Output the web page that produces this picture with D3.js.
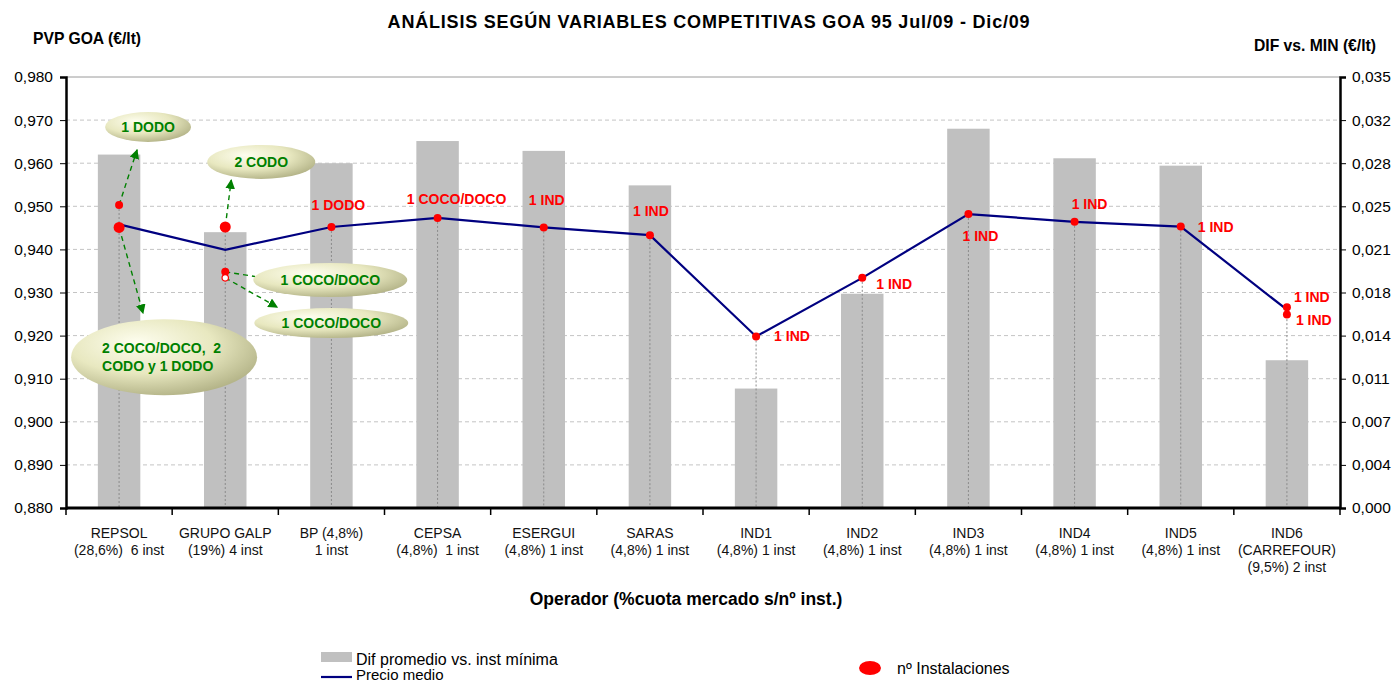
<!DOCTYPE html>
<html>
<head>
<meta charset="utf-8">
<script src="https://cdn.jsdelivr.net/npm/d3@7"></script>
<style>
  body { margin: 0; background: #fff; }
  text { font-family: Arial, "Liberation Sans", sans-serif; white-space: pre; }
</style>
</head>
<body>
<svg id="chart" width="1395" height="684"></svg>
<script>
// ---- data ----
const operators = ["REPSOL", "GRUPO GALP", "BP (4,8%)", "CEPSA", "ESERGUI", "SARAS",
                   "IND1", "IND2", "IND3", "IND4", "IND5", "IND6"];
const operatorDetail = [["(28,6%)  6 inst"], ["(19%) 4 inst"], ["1 inst"], ["(4,8%)  1 inst"],
                        ["(4,8%) 1 inst"], ["(4,8%) 1 inst"], ["(4,8%) 1 inst"], ["(4,8%) 1 inst"],
                        ["(4,8%) 1 inst"], ["(4,8%) 1 inst"], ["(4,8%) 1 inst"], ["(CARREFOUR)", "(9,5%) 2 inst"]];
const difMinima = [0.0287, 0.0224, 0.0280, 0.0298, 0.0290, 0.0262,
                   0.0097, 0.0174, 0.0308, 0.0284, 0.0278, 0.0120];
const precioMedio = [0.9458, 0.9399, 0.9452, 0.9473, 0.9451, 0.9433,
                     0.9198, 0.9334, 0.9482, 0.9464, 0.9453, 0.9260];
// price of each installation (red dots), per operator
const instalaciones = [[0.9503, 0.9451], [0.9452, 0.9348, 0.9334], [0.9452], [0.9473], [0.9451], [0.9433],
                       [0.9198], [0.9334], [0.9482], [0.9464], [0.9453], [0.9266, 0.9249]];
const instMarker = [["s", "L"], ["L", "s", "o"], ["s"], ["s"], ["s"], ["s"],
                    ["s"], ["s"], ["s"], ["s"], ["s"], ["s", "s"]];
const instLabels = [[], [], ["1 DODO"], ["1 COCO/DOCO"], ["1 IND"], ["1 IND"],
                    ["1 IND"], ["1 IND"], ["1 IND"], ["1 IND"], ["1 IND"], ["1 IND", "1 IND"]];
const leftTicks = [0.88, 0.89, 0.90, 0.91, 0.92, 0.93, 0.94, 0.95, 0.96, 0.97, 0.98];
const rightTicks = [0, 0.0035, 0.007, 0.0105, 0.014, 0.0175, 0.021, 0.0245, 0.028, 0.0315, 0.035];
const rightTickLabels = ["0,000", "0,004", "0,007", "0,011", "0,014", "0,018",
                         "0,021", "0,025", "0,028", "0,032", "0,035"];

// ---- layout ----
const svg = d3.select("#chart");
const m = { left: 66, right: 1340, top: 77, bottom: 508 };

const x = d3.scaleBand().domain(operators).range([m.left, m.right]);
const cx = d => x(d) + x.bandwidth() / 2;
const y = d3.scaleLinear().domain([0.88, 0.98]).range([m.bottom, m.top]);
const y2 = d3.scaleLinear().domain([0, 0.035]).range([m.bottom, m.top]);
const fmt = v => d3.format(".3f")(v).replace(".", ",");

const defs = svg.append("defs");
const grad = defs.append("radialGradient").attr("id", "bubble")
    .attr("cx", "40%").attr("cy", "35%").attr("r", "70%").attr("fx", "35%").attr("fy", "30%");
grad.append("stop").attr("offset", "0%").attr("stop-color", "#fdfdee");
grad.append("stop").attr("offset", "55%").attr("stop-color", "#e8e8c0");
grad.append("stop").attr("offset", "100%").attr("stop-color", "#b0b084");
defs.append("marker").attr("id", "arrow")
    .attr("viewBox", "0 0 10 10").attr("refX", 9).attr("refY", 5)
    .attr("markerWidth", 7).attr("markerHeight", 7).attr("orient", "auto")
  .append("path").attr("d", "M0,0L10,5L0,10Z").attr("fill", "#008000");

// Grid
svg.append("g").selectAll("line")
  .data(leftTicks.slice(1))
  .join("line")
    .attr("x1", m.left).attr("x2", m.right)
    .attr("y1", d => y(d)).attr("y2", d => y(d))
    .attr("stroke", (d, i) => i === leftTicks.length - 2 ? "#9a9a9a" : "#c4c4c4")
    .attr("stroke-dasharray", (d, i) => i === leftTicks.length - 2 ? null : "4,3");

// Bars (right axis)
const bw = x.bandwidth() * 0.4;
svg.append("g").selectAll("rect")
  .data(operators)
  .join("rect")
    .attr("x", d => cx(d) - bw / 2)
    .attr("width", bw)
    .attr("y", (d, i) => y2(difMinima[i]))
    .attr("height", (d, i) => m.bottom - y2(difMinima[i]))
    .attr("fill", "#c0c0c0");

// Drop lines
svg.append("g").selectAll("line")
  .data(operators)
  .join("line")
    .attr("x1", cx).attr("x2", cx)
    .attr("y1", (d, i) => y(d3.max(instalaciones[i])))
    .attr("y2", m.bottom)
    .attr("stroke", "#8a8a8a").attr("stroke-width", 1).attr("stroke-dasharray", "2,2");

// Axes
const gl = svg.append("g").attr("transform", `translate(${m.left},0)`)
  .call(d3.axisLeft(y).tickValues(leftTicks).tickFormat(fmt).tickSize(6).tickPadding(7));
const gr = svg.append("g").attr("transform", `translate(${m.right},0)`)
  .call(d3.axisRight(y2).tickValues(rightTicks).tickFormat((d, i) => rightTickLabels[i]).tickSize(6).tickPadding(6));
[gl, gr].forEach(g => {
  g.select(".domain").attr("stroke", "#000").attr("stroke-width", 2.5);
  g.selectAll(".tick line").attr("stroke", "#000").attr("stroke-width", 1);
  g.selectAll(".tick text").attr("font-size", 15.5).attr("fill", "#000")
    .attr("font-family", "Arial, 'Liberation Sans', sans-serif");
});

// x axis
svg.append("line").attr("x1", m.left).attr("x2", m.right + 1)
  .attr("y1", m.bottom).attr("y2", m.bottom)
  .attr("stroke", "#000").attr("stroke-width", 3);
svg.append("g").selectAll("line")
  .data(d3.range(operators.length + 1))
  .join("line")
    .attr("x1", i => m.left + i * x.step()).attr("x2", i => m.left + i * x.step())
    .attr("y1", m.bottom).attr("y2", m.bottom + 7)
    .attr("stroke", "#000").attr("stroke-width", 1.5);
const xl = svg.append("g").selectAll("text")
  .data(operators)
  .join("text")
    .attr("x", cx).attr("y", 538)
    .attr("text-anchor", "middle").attr("font-size", 14).attr("fill", "#111");
xl.append("tspan").attr("x", cx).attr("dy", 0).text(d => d);
xl.each(function(d, i) {
  operatorDetail[i].forEach(t => {
    d3.select(this).append("tspan").attr("x", cx(d)).attr("dy", 17).text(t);
  });
});

// Line
svg.append("path")
  .datum(precioMedio)
  .attr("fill", "none").attr("stroke", "#000080").attr("stroke-width", 2.2)
  .attr("d", d3.line().x((d, i) => cx(operators[i])).y(d => y(d)));

// Green annotations (arrows + bubbles)
const arrows = [
  { cat: 0, from: 0.9503, to: 0.9631, dx: 18 },
  { cat: 0, from: 0.9451, to: 0.9252, dx: 24 },
  { cat: 1, from: 0.9452, to: 0.9561, dx: 6 },
  { cat: 1, from: 0.9348, to: 0.9331, dx: 46 },
  { cat: 1, from: 0.9334, to: 0.9266, dx: 52 }
];
svg.append("g").selectAll("line")
  .data(arrows)
  .join("line")
    .attr("x1", d => cx(operators[d.cat])).attr("y1", d => y(d.from))
    .attr("x2", d => cx(operators[d.cat]) + d.dx).attr("y2", d => y(d.to))
    .attr("stroke", "#008000").attr("stroke-width", 1.4).attr("stroke-dasharray", "5,4")
    .attr("marker-end", "url(#arrow)");

const bubbles = [
  { cat: 0, v: 0.9684, dx: 29, rx: 43, ry: 15, lines: ["1 DODO"] },
  { cat: 1, v: 0.9603, dx: 36, rx: 54, ry: 17, lines: ["2 CODO"] },
  { cat: 1, v: 0.9329, dx: 105, rx: 77, ry: 17, lines: ["1 COCO/DOCO"] },
  { cat: 1, v: 0.9229, dx: 106, rx: 77, ry: 15, lines: ["1 COCO/DOCO"] },
  { cat: 0, v: 0.9150, dx: 45, rx: 93, ry: 38, lines: ["2 COCO/DOCO,  2", "CODO y 1 DODO"] }
];
const bg = svg.append("g").selectAll("g")
  .data(bubbles)
  .join("g")
    .attr("transform", d => `translate(${cx(operators[d.cat]) + d.dx},${y(d.v)})`);
bg.append("ellipse").attr("rx", d => d.rx).attr("ry", d => d.ry).attr("fill", "url(#bubble)");
bg.each(function(d) {
  const multi = d.lines.length > 1;
  d.lines.forEach((t, k) => {
    d3.select(this).append("text")
      .attr("x", multi ? -62 : 0)
      .attr("y", multi ? -4 + k * 18 : 5)
      .attr("text-anchor", multi ? "start" : "middle")
      .attr("font-size", 14).attr("font-weight", "bold").attr("fill", "#008000")
      .text(t);
  });
});

// Red dots
const dots = [];
instalaciones.forEach((vals, i) => vals.forEach((v, k) => dots.push({ i, v, kind: instMarker[i][k] })));
svg.append("g").selectAll("circle")
  .data(dots)
  .join("circle")
    .attr("cx", d => cx(operators[d.i])).attr("cy", d => y(d.v))
    .attr("r", d => d.kind === "L" ? 5.5 : d.kind === "o" ? 3.2 : 4)
    .attr("fill", d => d.kind === "o" ? "#fff" : "#ff0000")
    .attr("stroke", "#ff0000").attr("stroke-width", d => d.kind === "o" ? 1.2 : 0);

// Red labels (offsets relative to their dot)
const labelPos = { 2: [[7, -17, "middle"]], 3: [[19, -14, "middle"]], 4: [[3, -22, "middle"]],
                   5: [[1, -19, "middle"]], 6: [[18, 5, "start"]], 7: [[14, 11, "start"]],
                   8: [[12, 27, "middle"]], 9: [[15, -13, "middle"]], 10: [[17, 5, "start"]],
                   11: [[7, -5, "start"], [9, 11, "start"]] };
const labs = [];
instLabels.forEach((ls, i) => ls.forEach((t, k) => labs.push({ i, t, v: instalaciones[i][k], p: labelPos[i][k] })));
svg.append("g").selectAll("text")
  .data(labs)
  .join("text")
    .attr("x", d => cx(operators[d.i]) + d.p[0])
    .attr("y", d => y(d.v) + d.p[1])
    .attr("text-anchor", d => d.p[2])
    .attr("font-size", 14).attr("font-weight", "bold").attr("fill", "#ff0000")
    .text(d => d.t);

// Titles
svg.append("text").attr("x", 709).attr("y", 28).attr("text-anchor", "middle")
  .attr("font-size", 18).attr("font-weight", "bold").attr("letter-spacing", 0.8)
  .text("ANÁLISIS SEGÚN VARIABLES COMPETITIVAS GOA 95 Jul/09 - Dic/09");
svg.append("text").attr("x", 33).attr("y", 44).attr("font-size", 15.7).attr("font-weight", "bold")
  .text("PVP GOA (€/lt)");
svg.append("text").attr("x", 1376).attr("y", 51).attr("text-anchor", "end")
  .attr("font-size", 15.7).attr("font-weight", "bold")
  .text("DIF vs. MIN (€/lt)");
svg.append("text").attr("x", 686).attr("y", 605).attr("text-anchor", "middle")
  .attr("font-size", 17.5).attr("font-weight", "bold")
  .text("Operador (%cuota mercado s/nº inst.)");

// Legend
const lg = svg.append("g");
lg.append("rect").attr("x", 321).attr("y", 652).attr("width", 31).attr("height", 10).attr("fill", "#c0c0c0");
lg.append("text").attr("x", 356).attr("y", 665).attr("font-size", 16).text("Dif promedio vs. inst mínima");
lg.append("line").attr("x1", 321).attr("x2", 352).attr("y1", 677).attr("y2", 677)
  .attr("stroke", "#000080").attr("stroke-width", 2.2);
lg.append("text").attr("x", 356).attr("y", 680).attr("font-size", 15).text("Precio medio");
lg.append("ellipse").attr("cx", 870).attr("cy", 668).attr("rx", 11).attr("ry", 7).attr("fill", "#ff0000");
lg.append("text").attr("x", 897).attr("y", 674).attr("font-size", 16).text("nº Instalaciones");
</script>
</body>
</html>
